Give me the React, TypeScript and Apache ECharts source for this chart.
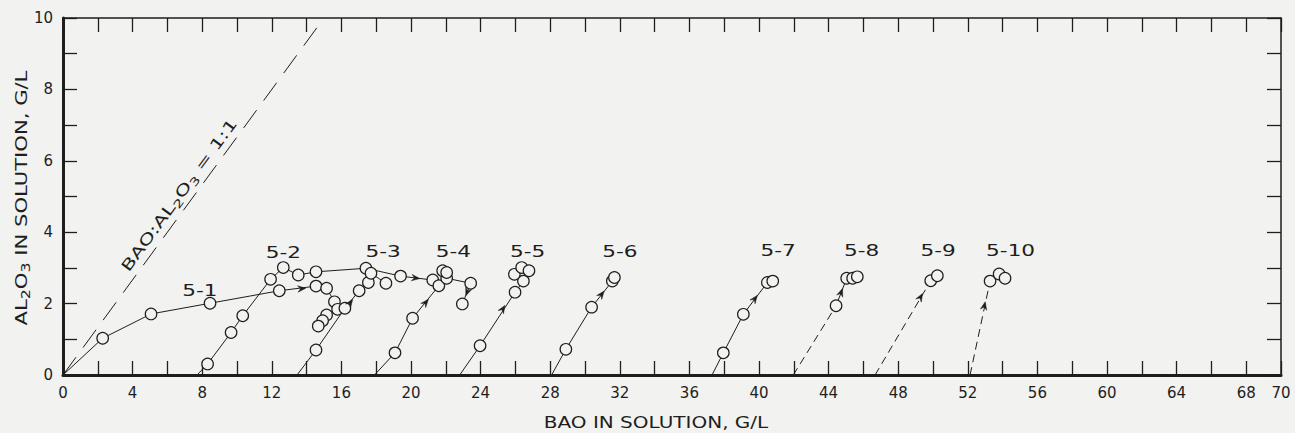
import React, { useEffect, useRef } from 'react';
import * as echarts from 'echarts';

// ---- data (BaO g/L , Al2O3 g/L) ----
const ratioLine = [[0, 0], [15, 10]];

const path51 = [[0, 0], [2.28, 1.03], [5.06, 1.71], [8.45, 2.01], [12.43, 2.36], [14.54, 2.49], [15.15, 2.43], [15.6, 2.05], [15.78, 1.84], [16.2, 1.87]];
const pts51 = [[2.28, 1.03], [5.06, 1.71], [8.45, 2.01], [12.43, 2.36], [14.54, 2.49], [15.15, 2.43], [15.6, 2.05], [15.78, 1.84], [16.2, 1.87], [15.15, 1.68], [14.92, 1.52], [14.67, 1.37]];

const path52 = [[7.7, 0], [8.31, 0.31], [9.66, 1.19], [10.33, 1.66], [11.93, 2.68], [12.66, 3.01], [13.52, 2.8], [14.54, 2.89], [17.41, 2.99]];
const pts52 = [[8.31, 0.31], [9.66, 1.19], [10.33, 1.66], [11.93, 2.68], [12.66, 3.01], [13.52, 2.8], [14.54, 2.89], [17.41, 2.99]];

const path53 = [[13.45, 0], [14.54, 0.7], [16.2, 1.87], [17.02, 2.36], [17.55, 2.59], [17.7, 2.85], [18.56, 2.57]];
const path53b = [[17.41, 2.99], [19.4, 2.77], [21.25, 2.66]];
const pts53 = [[14.54, 0.7], [17.02, 2.36], [17.55, 2.59], [17.7, 2.85], [18.56, 2.57], [19.4, 2.77], [21.25, 2.66]];

const path54 = [[17.9, 0], [19.08, 0.62], [20.09, 1.59], [21.6, 2.5], [22.05, 2.71]];
const path54b = [[22.05, 2.71], [23.43, 2.57], [22.95, 1.99]];
const pts54 = [[19.08, 0.62], [20.09, 1.59], [21.6, 2.5], [22.05, 2.71], [21.82, 2.92], [22.05, 2.87], [23.43, 2.57], [22.95, 1.99]];

const path55 = [[22.8, 0], [23.97, 0.82], [25.98, 2.32], [26.46, 2.63]];
const pts55 = [[23.97, 0.82], [25.98, 2.32], [26.46, 2.63], [25.94, 2.82], [26.36, 3.01], [26.78, 2.92]];

const path56 = [[28.08, 0], [28.9, 0.72], [30.38, 1.9], [31.57, 2.63]];
const pts56 = [[28.9, 0.72], [30.38, 1.9], [31.57, 2.63], [31.69, 2.73]];

const path57 = [[37.3, 0], [37.95, 0.62], [39.1, 1.7], [40.48, 2.59]];
const pts57 = [[37.95, 0.62], [39.1, 1.7], [40.48, 2.59], [40.79, 2.63]];

const dash58 = [[41.97, 0], [44.43, 1.94]];
const path58 = [[44.43, 1.94], [45.04, 2.71]];
const pts58 = [[44.43, 1.94], [45.04, 2.71], [45.38, 2.71], [45.65, 2.75]];

const dash59 = [[46.67, 0], [49.87, 2.64]];
const pts59 = [[49.87, 2.64], [50.25, 2.78]];

const dash510 = [[52.13, 0], [53.28, 2.63]];
const pts510 = [[53.28, 2.63], [53.8, 2.83], [54.14, 2.71]];

// arrows: [fromX, fromY, tipX, tipY]
const arrows = [
  [12.43, 2.36, 13.95, 2.43],
  [14.54, 0.7, 16.65, 2.12],
  [19.4, 2.77, 20.5, 2.7],
  [20.09, 1.59, 21.0, 2.12],
  [23.43, 2.57, 23.15, 2.22],
  [23.97, 0.82, 25.4, 1.95],
  [30.38, 1.9, 31.1, 2.35],
  [39.1, 1.7, 39.9, 2.23],
  [44.43, 1.94, 44.8, 2.42],
  [46.67, 0, 49.4, 2.28],
  [52.13, 0, 53.0, 2.05],
];

const runNames = ['5-1', '5-2', '5-3', '5-4', '5-5', '5-6', '5-7', '5-8', '5-9', '5-10'];
const runLabelPos = [[7.87, 2.38], [12.66, 3.45], [18.4, 3.48], [22.43, 3.48], [26.7, 3.48], [32.0, 3.48], [41.1, 3.5], [45.9, 3.5], [50.3, 3.5], [54.46, 3.5]];
const ratioLabelPos = [[6.67, 5.04]];

const xTitle = 'BAO IN SOLUTION, G/L';
const yTitle = '{m|AL}{s|2}{m|O}{s|3}{m| IN SOLUTION, G/L}';
const ratioTitle = '{m|BAO:AL}{s|2}{m|O}{s|3}{m| = 1:1}';

const FONT = '"DejaVu Sans", "Liberation Sans", sans-serif';
const INK = '#1e1e1e';
const BG = '#f2f2f0';

function lineSeries(data: number[][], dash?: number[]) {
  return {
    type: 'line',
    data,
    showSymbol: false,
    symbol: 'none',
    silent: true,
    z: 3,
    lineStyle: { color: INK, width: 1, type: dash ? dash : 'solid' },
  };
}

export default function App() {
  const ref = useRef<HTMLDivElement>(null);
  useEffect(() => {
    if (!ref.current) return;
    const chart = echarts.init(ref.current, undefined, { renderer: 'svg' });
    const allPts = [...pts51, ...pts52, ...pts53, ...pts54, ...pts55, ...pts56, ...pts57, ...pts58, ...pts59, ...pts510];
    const richFor = (size: number) => ({
      m: { fontSize: size, lineHeight: size + 5, fill: INK, color: INK, fontFamily: FONT },
      s: { fontSize: Math.round(size * 0.72), lineHeight: Math.round(size * 0.72), verticalAlign: 'bottom', fill: INK, color: INK, fontFamily: FONT },
    });
    const axisBase = {
      type: 'value',
      splitLine: { show: false },
      axisTick: { show: true, inside: true, length: 14, lineStyle: { color: INK, width: 1.3 } },
    };
    const option: any = {
      animation: false,
      backgroundColor: BG,
      grid: { left: 63, right: 14, top: 18, bottom: 58, containLabel: false },
      xAxis: [
        {
          ...axisBase, position: 'bottom', min: 0, max: 70, interval: 2,
          axisLine: { show: true, onZero: false, lineStyle: { color: INK, width: 3 } },
          axisLabel: {
            margin: 10, fontSize: 15, color: INK, fontFamily: FONT,
            formatter: (v: number) => (v % 4 === 0 || v === 70 ? String(v) : ''),
          },
        },
        {
          ...axisBase, position: 'top', min: 0, max: 70, interval: 2,
          axisLine: { show: true, onZero: false, lineStyle: { color: INK, width: 1.5 } },
          axisLabel: { show: false },
        },
      ],
      yAxis: [
        {
          ...axisBase, position: 'left', min: 0, max: 10, interval: 1,
          axisLine: { show: true, onZero: false, lineStyle: { color: INK, width: 3 } },
          axisLabel: {
            margin: 10, fontSize: 15, color: INK, fontFamily: FONT,
            formatter: (v: number) => (v % 2 === 0 ? String(v) : ''),
          },
        },
        {
          ...axisBase, position: 'right', min: 0, max: 10, interval: 1,
          axisLine: { show: true, onZero: false, lineStyle: { color: INK, width: 1.5 } },
          axisLabel: { show: false },
        },
      ],
      graphic: [
        {
          type: 'text', x: 656, y: 422, scaleX: 1.25, silent: true,
          style: { text: xTitle, fontSize: 16, fontFamily: FONT, fill: INK, align: 'center', verticalAlign: 'middle' },
        },
        {
          type: 'text', x: 21, y: 198, rotation: Math.PI / 2, scaleX: 1.32, silent: true,
          style: { text: yTitle, rich: richFor(16), align: 'center', verticalAlign: 'middle', fill: INK },
        },
      ],
      series: [
        lineSeries(ratioLine, [22, 12]),
        lineSeries(path51), lineSeries(path52), lineSeries(path53), lineSeries(path53b),
        lineSeries(path54), lineSeries(path54b), lineSeries(path55), lineSeries(path56),
        lineSeries(path57), lineSeries(dash58, [8, 5]), lineSeries(path58),
        lineSeries(dash59, [8, 5]), lineSeries(dash510, [8, 5]),
        {
          type: 'scatter', data: allPts, symbol: 'circle', symbolSize: 11.5, z: 5, silent: true,
          itemStyle: { color: BG, borderColor: INK, borderWidth: 1.2, opacity: 1 },
        },
        {
          type: 'custom', data: arrows, z: 6, silent: true, clip: false,
          encode: { x: [0, 2], y: [1, 3] },
          renderItem: (params: any, api: any) => {
            const p1 = api.coord([api.value(0), api.value(1)]);
            const p2 = api.coord([api.value(2), api.value(3)]);
            const a = Math.atan2(p2[1] - p1[1], p2[0] - p1[0]);
            const L = 8, W = 3.2;
            const bx = p2[0] - L * Math.cos(a), by = p2[1] - L * Math.sin(a);
            const nx = -Math.sin(a) * W, ny = Math.cos(a) * W;
            return {
              type: 'polygon',
              shape: { points: [[p2[0], p2[1]], [bx + nx, by + ny], [bx + 0.35 * L * Math.cos(a), by + 0.35 * L * Math.sin(a)], [bx - nx, by - ny]] },
              style: { fill: INK, stroke: INK, lineWidth: 0.5 },
            };
          },
        },
        {
          type: 'custom', data: runLabelPos, z: 7, silent: true, clip: false,
          renderItem: (params: any, api: any) => {
            const p = api.coord([api.value(0), api.value(1)]);
            return {
              type: 'text', x: p[0], y: p[1], scaleX: 1.35,
              style: { text: runNames[params.dataIndex], align: 'center', verticalAlign: 'middle', fill: INK, fontSize: 16, fontFamily: FONT },
            };
          },
        },
        {
          type: 'custom', data: ratioLabelPos, z: 7, silent: true, clip: false,
          renderItem: (params: any, api: any) => {
            const p = api.coord([api.value(0), api.value(1)]);
            return {
              type: 'text', x: p[0], y: p[1], rotation: (53.8 * Math.PI) / 180, scaleX: 1.45,
              style: { text: ratioTitle, rich: richFor(15), align: 'center', verticalAlign: 'middle', fill: INK },
            };
          },
        },
      ],
    };
    chart.setOption(option);
    return () => chart.dispose();
  }, []);
  return (
    <div
      ref={ref}
      style={{ position: 'fixed', left: 0, top: 0, width: 1295, height: 433, background: BG }}
    />
  );
}
